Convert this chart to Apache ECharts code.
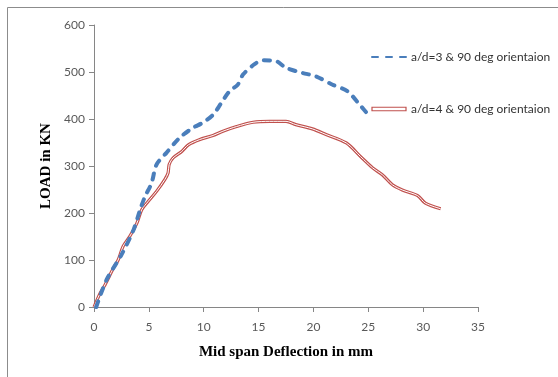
<!DOCTYPE html>
<html>
<head>
<meta charset="utf-8">
<script src="https://cdn.jsdelivr.net/npm/echarts@6/dist/echarts.min.js"></script>
<style>
  html, body { margin: 0; padding: 0; background: #fff; }
  #chart { width: 558px; height: 377px; }
</style>
</head>
<body>
<div id="chart"></div>
<script>
// a/d=3 curve (blue dashed)
const blueDefl = [0.2, 1.15, 2.5, 3.6, 4.2, 4.65, 5.25, 5.7, 6.6, 7.8, 9.0, 9.9, 10.85, 11.6, 12.35, 13.1, 13.6, 14.6, 15.4, 16.6, 17.5, 19.0, 20.2, 21.75, 23.1, 24.2, 25.1];
const blueLoad = [0, 58, 111, 164, 207, 235, 264, 303, 328, 360, 381, 392, 409, 434, 459, 473, 495, 516, 525, 523, 509, 498, 491, 473, 459, 431, 406];

// a/d=4 curve (red double line)
const redDefl = [0, 0.55, 1.0, 1.75, 2.2, 2.65, 3.25, 3.9, 4.35, 4.95, 5.7, 6.45, 6.75, 6.85, 7.2, 8.0, 8.6, 9.6, 10.85, 11.75, 13.0, 14.5, 16.0, 17.5, 18.4, 19.9, 21.15, 23.0, 24.3, 25.4, 26.3, 27.2, 28.1, 29.5, 30.2, 31.6];
const redLoad = [0, 29, 47, 82, 100, 129, 150, 178, 207, 225, 246, 271, 285, 303, 317, 331, 345, 356, 365, 374, 384, 393, 395, 395, 388, 379, 367, 349, 320, 296, 281, 260, 249, 237, 221, 209];

const blueName = 'a/d=3 & 90 deg orientaion';
const redName = 'a/d=4 & 90 deg orientaion';

const zip = (xs, ys) => xs.map((x, i) => [x, ys[i]]);

const chart = echarts.init(document.getElementById('chart'));

const labelFont = { color: '#595959', fontSize: 12, fontFamily: 'Lato' };

chart.setOption({
    animation: false,
    graphic: [{
        type: 'rect',
        shape: { x: 7.5, y: 7.5, width: 600, height: 400 },
        style: { fill: 'none', stroke: '#8c8c8c', lineWidth: 1 },
        silent: true
    }],
    grid: { left: 94, top: 25, right: 80, bottom: 70 },
    legend: {
        orient: 'vertical',
        left: 366,
        top: 46,
        itemWidth: 34,
        itemHeight: 8,
        itemGap: 40,
        textStyle: { color: '#333', fontSize: 12, fontFamily: 'Lato' },
        data: [
            { name: blueName, itemStyle: { opacity: 0 } },
            {
                name: redName,
                icon: 'path://M0,0L34,0L34,3.5L0,3.5Z',
                itemStyle: { color: '#fff', borderColor: '#c0504d', borderWidth: 1.2 }
            }
        ]
    },
    xAxis: {
        type: 'value',
        min: 0, max: 35, interval: 5,
        name: 'Mid span Deflection in mm',
        nameLocation: 'middle',
        nameGap: 38,
        nameTextStyle: { fontFamily: 'Liberation Serif', fontWeight: 'bold', fontSize: 15, color: '#000' },
        splitLine: { show: false },
        axisLine: { lineStyle: { color: '#868686' } },
        axisTick: { show: true, length: 5, lineStyle: { color: '#868686' } },
        axisLabel: Object.assign({ margin: 14 }, labelFont)
    },
    yAxis: {
        type: 'value',
        min: 0, max: 600, interval: 100,
        name: 'LOAD in KN',
        nameLocation: 'middle',
        nameGap: 38,
        nameTextStyle: { fontFamily: 'Liberation Serif', fontWeight: 'bold', fontSize: 15, color: '#000' },
        splitLine: { show: false },
        axisLine: { show: true, lineStyle: { color: '#868686' } },
        axisTick: { show: true, length: 5, lineStyle: { color: '#868686' } },
        axisLabel: Object.assign({ margin: 9 }, labelFont)
    },
    series: [
        {
            name: blueName,
            type: 'line',
            data: zip(blueDefl, blueLoad),
            smooth: 0.3,
            symbol: 'none',
            z: 3,
            itemStyle: { color: '#4a7ebb' },
            lineStyle: { color: '#4a7ebb', width: 4, type: [6, 8], cap: 'round' }
        },
        {
            name: redName,
            type: 'line',
            data: zip(redDefl, redLoad),
            smooth: 0.3,
            symbol: 'none',
            z: 2,
            itemStyle: { color: '#c0504d' },
            lineStyle: { color: '#c0504d', width: 3.2 }
        },
        {
            name: 'red core',
            type: 'line',
            data: zip(redDefl, redLoad),
            smooth: 0.3,
            symbol: 'none',
            z: 2,
            silent: true,
            lineStyle: { color: '#fff', width: 1 }
        }
    ]
});
</script>
</body>
</html>
